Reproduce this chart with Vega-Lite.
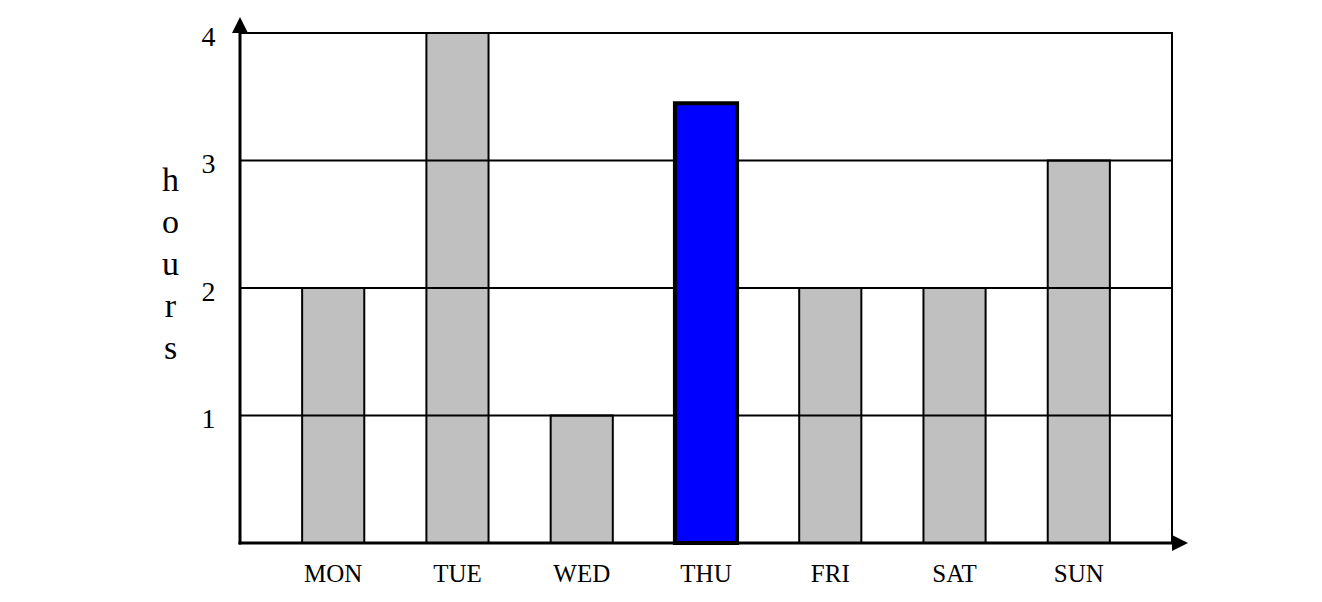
{
  "$schema": "https://vega.github.io/schema/vega-lite/v6.json",
  "width": 932,
  "height": 510,
  "autosize": {"type": "none"},
  "padding": {"left": 240, "top": 33, "right": 150, "bottom": 59},
  "background": "white",
  "config": {"view": {"stroke": "black", "strokeWidth": 2}, "font": "Liberation Serif"},
  "datasets": {
    "bars": [
      {"day": "MON", "hours": 2},
      {"day": "TUE", "hours": 4},
      {"day": "WED", "hours": 1},
      {"day": "THU", "hours": 3.45},
      {"day": "FRI", "hours": 2},
      {"day": "SAT", "hours": 2},
      {"day": "SUN", "hours": 3}
    ],
    "grid": [{"hours": 1}, {"hours": 2}, {"hours": 3}],
    "axes": [
      {"ax": 0, "hours": 0, "ax2": 7, "ay2": 0},
      {"ax": 0, "hours": 0, "ax2": 0, "ay2": 4}
    ],
    "arrows": [
      {"px": 0, "hours": 4.063, "dir": "up"},
      {"px": 7.06, "hours": 0, "dir": "right"}
    ]
  },
  "layer": [
    {
      "data": {"name": "bars"},
      "transform": [{"filter": "datum.day !== 'THU'"}],
      "mark": {"type": "bar", "fill": "#c0c0c0", "stroke": "black", "strokeWidth": 2},
      "encoding": {
        "x": {
          "field": "day", "type": "nominal", "sort": null,
          "scale": {"domain": ["MON", "TUE", "WED", "THU", "FRI", "SAT", "SUN"], "paddingInner": 0.5, "paddingOuter": 0.5},
          "axis": {"title": null, "domain": false, "ticks": false, "labelAngle": 0, "labelFontSize": 25, "labelFont": "Liberation Serif", "labelColor": "black", "labelPadding": 38, "labelBaseline": "alphabetic"}
        },
        "y": {
          "field": "hours", "type": "quantitative",
          "scale": {"domain": [0, 4], "nice": false, "zero": true},
          "axis": {
            "values": [1, 2, 3, 4], "format": "d", "grid": false, "domain": false, "ticks": false,
            "title": ["h", "o", "u", "r", "s"], "titleAngle": 0, "titleFontSize": 34, "titleFont": "Liberation Serif", "titleFontWeight": "normal", "titleColor": "black",
            "titleLineHeight": 42, "titleX": -70, "titleY": 157, "titleAlign": "center", "titleBaseline": "alphabetic",
            "labelFontSize": 28, "labelFont": "Liberation Serif", "labelColor": "black", "labelPadding": 25, "labelBaseline": "middle", "labelOffset": 4
          }
        }
      }
    },
    {
      "data": {"name": "grid"},
      "mark": {"type": "rule", "stroke": "black", "strokeWidth": 2},
      "encoding": {
        "y": {"field": "hours", "type": "quantitative", "scale": {"domain": [0, 4], "nice": false}}
      }
    },
    {
      "data": {"name": "bars"},
      "transform": [{"filter": "datum.day === 'THU'"}],
      "mark": {"type": "bar", "fill": "#0000ff", "stroke": "black", "strokeWidth": 4},
      "encoding": {
        "x": {
          "field": "day", "type": "nominal", "sort": null,
          "scale": {"domain": ["MON", "TUE", "WED", "THU", "FRI", "SAT", "SUN"], "paddingInner": 0.5, "paddingOuter": 0.5},
          "axis": null
        },
        "y": {"field": "hours", "type": "quantitative", "scale": {"domain": [0, 4], "nice": false}}
      }
    },
    {
      "data": {"name": "axes"},
      "mark": {"type": "rule", "stroke": "black", "strokeWidth": 3, "strokeCap": "square"},
      "encoding": {
        "x": {"field": "ax", "type": "quantitative", "scale": {"domain": [0, 7], "nice": false, "zero": false}, "axis": null},
        "x2": {"field": "ax2"},
        "y": {"field": "hours", "type": "quantitative", "scale": {"domain": [0, 4], "nice": false}},
        "y2": {"field": "ay2"}
      }
    },
    {
      "data": {"name": "arrows"},
      "mark": {"type": "point", "filled": true, "color": "black", "opacity": 1, "size": 256},
      "encoding": {
        "x": {"field": "px", "type": "quantitative", "scale": {"domain": [0, 7], "nice": false, "zero": false}, "axis": null},
        "y": {"field": "hours", "type": "quantitative", "scale": {"domain": [0, 4], "nice": false}},
        "shape": {
          "field": "dir", "type": "nominal",
          "scale": {"domain": ["up", "right"], "range": ["M-1,1L0,-1L1,1Z", "M-1,-1L1,0L-1,1Z"]},
          "legend": null
        }
      }
    }
  ],
  "resolve": {"scale": {"x": "independent"}}
}
